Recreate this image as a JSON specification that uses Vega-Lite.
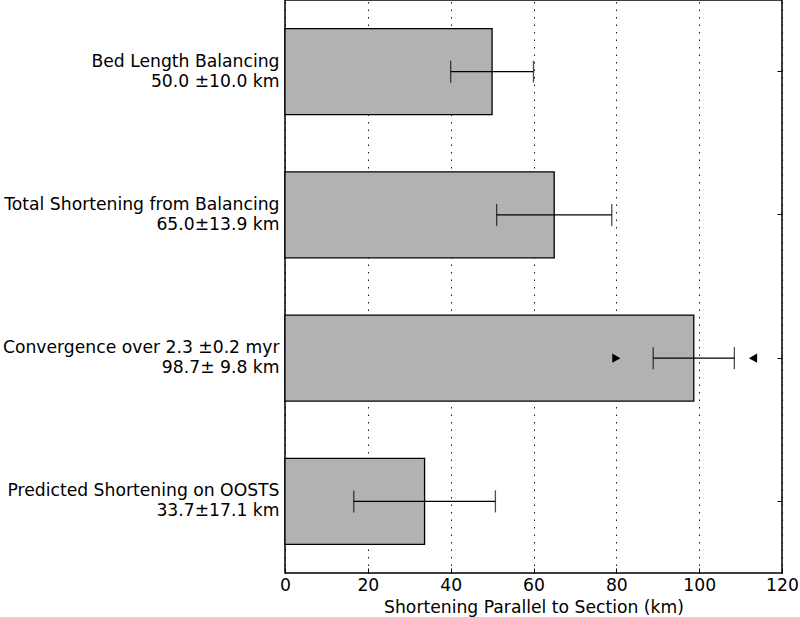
{
  "$schema": "https://vega.github.io/schema/vega-lite/v6.json",
  "width": 497,
  "height": 573,
  "autosize": {"type": "none"},
  "padding": {"left": 285, "top": 0, "right": 18, "bottom": 44},
  "config": {
    "font": "DejaVu Sans",
    "view": {"stroke": "black", "strokeWidth": 1.5},
    "axis": {
      "domain": false,
      "labelColor": "black",
      "titleColor": "black",
      "tickColor": "black",
      "labelFontSize": 17.2,
      "titleFontSize": 17.2,
      "titleFontWeight": "normal",
      "labelFont": "DejaVu Sans",
      "titleFont": "DejaVu Sans",
      "labelLimit": 0
    }
  },
  "datasets": {
    "bars": [
      {"label": "Bed Length Balancing|50.0 ±10.0 km", "value": 50.0, "lo": 40.0, "hi": 60.0},
      {"label": "Total Shortening from Balancing|65.0±13.9 km", "value": 65.0, "lo": 51.1, "hi": 78.9},
      {"label": "Convergence over 2.3 ±0.2 myr|98.7± 9.8 km", "value": 98.7, "lo": 88.9, "hi": 108.5},
      {"label": "Predicted Shortening on OOSTS|33.7±17.1 km", "value": 33.7, "lo": 16.6, "hi": 50.8}
    ],
    "markers": [
      {"label": "Convergence over 2.3 ±0.2 myr|98.7± 9.8 km", "x": 80, "shape": "triangle-right"},
      {"label": "Convergence over 2.3 ±0.2 myr|98.7± 9.8 km", "x": 113, "shape": "triangle-left"}
    ]
  },
  "layer": [
    {
      "data": {"name": "bars"},
      "mark": {"type": "bar", "fill": "#b2b2b2", "stroke": "black", "strokeWidth": 1.3},
      "encoding": {
        "y": {
          "field": "label", "type": "nominal", "sort": null,
          "scale": {"paddingInner": 0.4, "paddingOuter": 0.2},
          "axis": {
            "title": null, "orient": "left", "tickSize": -5, "labelPadding": 11,
            "labelExpr": "split(datum.value, '|')", "labelLineHeight": 20, "labelOffset": -10,
            "labelAlign": "right", "labelBaseline": "middle"
          }
        },
        "x": {
          "field": "value", "type": "quantitative",
          "scale": {"domain": [0, 120], "nice": false},
          "axis": {
            "title": "Shortening Parallel to Section (km)",
            "values": [0, 20, 40, 60, 80, 100, 120],
            "tickSize": -5, "labelPadding": 8, "titlePadding": 5, "labelFlush": false,
            "grid": true, "gridColor": "black", "gridDash": [1.5, 6], "gridWidth": 1, "gridOpacity": 0.9
          }
        }
      }
    },
    {
      "data": {"name": "bars"},
      "mark": {"type": "rule", "color": "black", "strokeWidth": 1.3},
      "encoding": {
        "y": {"field": "label", "type": "nominal", "sort": null, "axis": null},
        "x": {"field": "lo", "type": "quantitative"},
        "x2": {"field": "hi"}
      }
    },
    {
      "data": {"name": "bars"},
      "mark": {"type": "tick", "orient": "vertical", "size": 22, "thickness": 1.3, "color": "black"},
      "encoding": {
        "y": {"field": "label", "type": "nominal", "sort": null, "axis": null},
        "x": {"field": "lo", "type": "quantitative"}
      }
    },
    {
      "data": {"name": "bars"},
      "mark": {"type": "tick", "orient": "vertical", "size": 22, "thickness": 1.3, "color": "black"},
      "encoding": {
        "y": {"field": "label", "type": "nominal", "sort": null,
              "axis": {"orient": "right", "title": null, "labels": false, "tickSize": -5}},
        "x": {"field": "hi", "type": "quantitative"}
      }
    },
    {
      "data": {"name": "markers"},
      "mark": {"type": "point", "filled": true, "color": "black", "opacity": 1, "size": 90},
      "encoding": {
        "y": {"field": "label", "type": "nominal", "sort": null, "axis": null},
        "x": {"field": "x", "type": "quantitative"},
        "shape": {"field": "shape", "type": "nominal", "scale": null, "legend": null}
      }
    }
  ],
  "resolve": {"axis": {"y": "independent"}}
}
